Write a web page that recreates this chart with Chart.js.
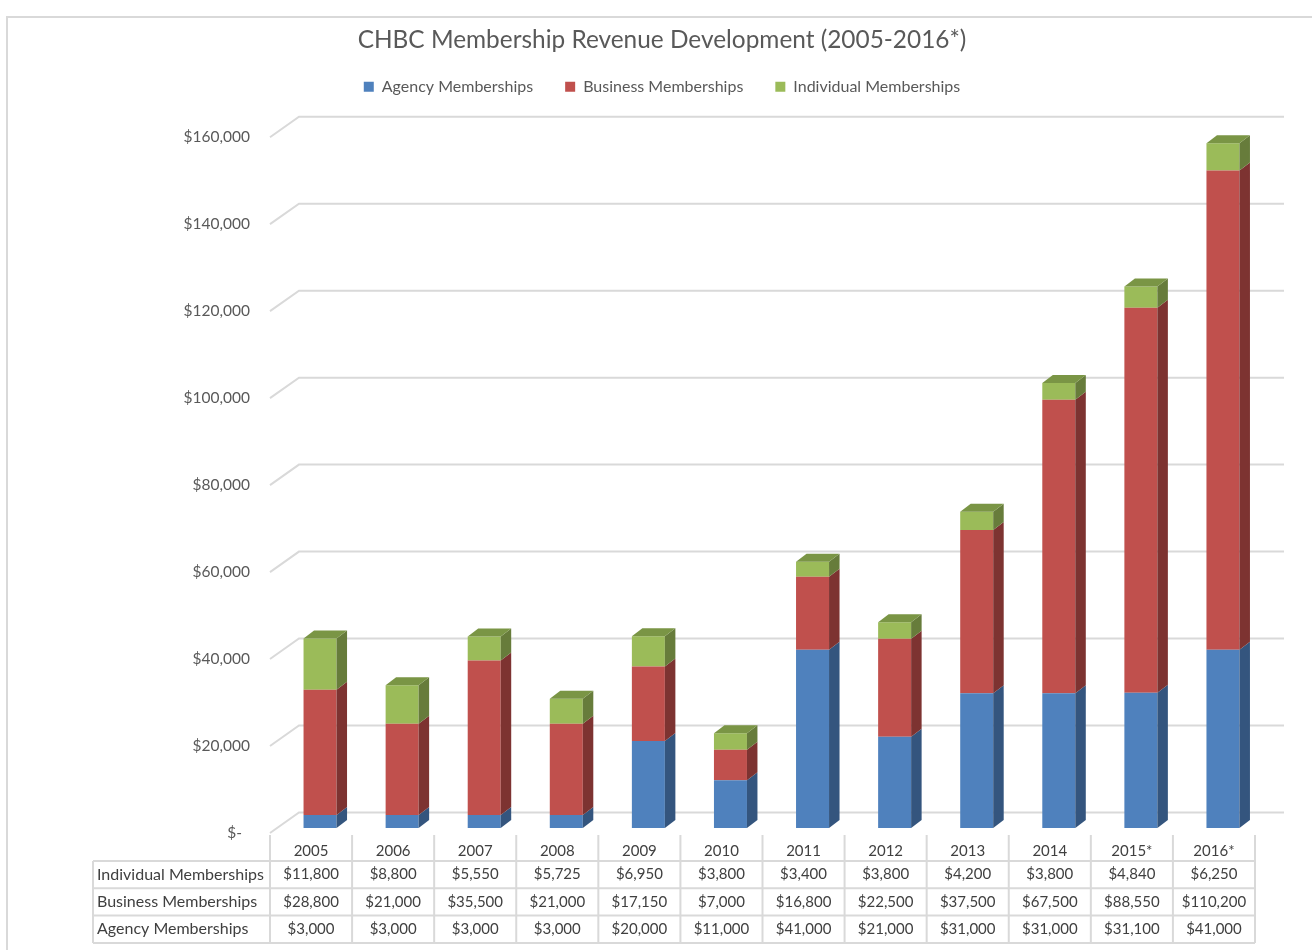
<!DOCTYPE html>
<html><head><meta charset="utf-8">
<script src="https://cdn.jsdelivr.net/npm/chart.js@4.4.1/dist/chart.umd.min.js"></script>
<style>html,body{margin:0;padding:0;background:#fff}#wrap{width:1312px;height:950px;position:relative}</style>
</head><body><div id="wrap"><canvas id="c"></canvas></div>
<script>
// ---- data ----
const categories = ['2005','2006','2007','2008','2009','2010','2011','2012','2013','2014','2015*','2016*'];
const agencyValues = [3000,3000,3000,3000,20000,11000,41000,21000,31000,31000,31100,41000];
const businessValues = [28800,21000,35500,21000,17150,7000,16800,22500,37500,67500,88550,110200];
const individualValues = [11800,8800,5550,5725,6950,3800,3400,3800,4200,3800,4840,6250];
const seriesNames = ['Agency Memberships','Business Memberships','Individual Memberships'];
const yTickValues = [0,20000,40000,60000,80000,100000,120000,140000,160000];
const titleText = 'CHBC Membership Revenue Development (2005-2016*)';

// ---- styles ----
const FONT = 'Lato, "Open Sans", sans-serif';
const frontColors = ['#4F81BD','#C0504D','#9BBB59'];
const sideColors = ['#34557E','#7D3331','#677C3B'];
const topColor = '#7A9545';
const GRID = '#d9d9d9';
const DEPTH = {dx: 10.5, dy: -8};
const TABLE_SHIFT = -9;

const money = v => '$' + v.toLocaleString('en-US');

const deco = {
  id: 'deco',
  beforeDraw(chart) {
    const ctx = chart.ctx;
    ctx.save();
    ctx.strokeStyle = '#d9d9d9'; ctx.lineWidth = 2;
    ctx.beginPath(); ctx.moveTo(7, 960); ctx.lineTo(7, 17); ctx.lineTo(1320, 17); ctx.stroke();
    ctx.restore();
  },
  beforeDatasetsDraw(chart) {
    const {ctx, chartArea: a, scales: {y}} = chart;
    ctx.save();
    ctx.strokeStyle = GRID; ctx.lineWidth = 2;
    y.ticks.forEach(t => {
      const py = y.getPixelForValue(t.value);
      ctx.beginPath();
      ctx.moveTo(a.left - 9, py + 5);
      ctx.lineTo(a.left + 20, py - 15.5);
      ctx.lineTo(a.right + 20, py - 15.5);
      ctx.stroke();
    });
    ctx.restore();
  },
  afterDatasetsDraw(chart) {
    const ctx = chart.ctx;
    const n = chart.data.datasets.length;
    ctx.save();
    chart.data.datasets.forEach((ds, di) => {
      const meta = chart.getDatasetMeta(di);
      meta.data.forEach(bar => {
        const p = bar.getProps(['x','y','base','width'], true);
        const l = p.x - p.width / 2, r = p.x + p.width / 2;
        const t = Math.min(p.y, p.base), b = Math.max(p.y, p.base);
        ctx.fillStyle = sideColors[di];
        ctx.beginPath();
        ctx.moveTo(r, t); ctx.lineTo(r + DEPTH.dx, t + DEPTH.dy);
        ctx.lineTo(r + DEPTH.dx, b + DEPTH.dy); ctx.lineTo(r, b);
        ctx.closePath(); ctx.fill();
        if (di === n - 1) {
          ctx.fillStyle = topColor;
          ctx.beginPath();
          ctx.moveTo(l, t); ctx.lineTo(l + DEPTH.dx, t + DEPTH.dy);
          ctx.lineTo(r + DEPTH.dx, t + DEPTH.dy); ctx.lineTo(r, t);
          ctx.closePath(); ctx.fill();
        }
      });
    });
    ctx.restore();
  },
  afterDraw(chart) {
    const {ctx, scales: {x}} = chart;
    const half = (x.getPixelForValue(1) - x.getPixelForValue(0)) / 2;
    const edges = categories.map((c, i) => x.getPixelForValue(i) - half + TABLE_SHIFT);
    edges.push(x.getPixelForValue(categories.length - 1) + half + TABLE_SHIFT);
    const rows = [
      [seriesNames[2], individualValues],
      [seriesNames[1], businessValues],
      [seriesNames[0], agencyValues]
    ];
    const headLeft = 93, rowTop = 861, rowH = 27.3, colTop = 835;
    const rowLines = [0,1,2,3].map(k => rowTop + k * rowH);
    ctx.save();
    ctx.strokeStyle = GRID; ctx.lineWidth = 2;
    ctx.beginPath();
    rowLines.forEach(yy => { ctx.moveTo(headLeft, yy); ctx.lineTo(edges[edges.length - 1], yy); });
    edges.forEach(ex => { ctx.moveTo(ex, colTop); ctx.lineTo(ex, rowLines[3]); });
    ctx.moveTo(headLeft, rowTop); ctx.lineTo(headLeft, rowLines[3]);
    ctx.stroke();
    ctx.fillStyle = '#404040';
    ctx.textBaseline = 'middle';
    rows.forEach((row, k) => {
      const cy = rowTop + k * rowH + rowH / 2;
      ctx.textAlign = 'left';
      ctx.font = '16px ' + FONT;
      ctx.fillText(row[0], headLeft + 4, cy);
      ctx.textAlign = 'center';
      ctx.font = '15px ' + FONT;
      row[1].forEach((v, i) => ctx.fillText(money(v), (edges[i] + edges[i + 1]) / 2, cy));
    });
    ctx.restore();
  }
};

const datasets = [agencyValues, businessValues, individualValues].map((vals, i) => ({
  label: seriesNames[i],
  data: vals,
  backgroundColor: frontColors[i],
  borderWidth: 0,
  barPercentage: 0.402,
  categoryPercentage: 1
}));

new Chart(document.getElementById('c'), {
  type: 'bar',
  data: { labels: categories, datasets },
  plugins: [deco],
  options: {
    responsive: true,
    maintainAspectRatio: false,
    animation: false,
    layout: { padding: { top: 34.5, left: 60, right: 48, bottom: 0 } },
    plugins: {
      tooltip: { enabled: false },
      title: {
        display: true, text: titleText, color: '#595959', padding: 0,
        font: { family: FONT, size: 24.4, weight: 'normal', lineHeight: 0.5 }
      },
      subtitle: {
        display: true, text: '', padding: { top: 26.5, bottom: 0 }, weight: 500,
        font: { size: 1, lineHeight: 1 }
      },
      legend: {
        position: 'top',
        labels: {
          boxWidth: 10, boxHeight: 10, padding: 32, color: '#595959',
          font: { family: FONT, size: 16 }
        }
      }
    },
    scales: {
      x: {
        stacked: true,
        grid: { display: false, drawTicks: false },
        border: { display: false },
        ticks: { color: '#404040', font: { family: FONT, size: 15 }, padding: 14, labelOffset: TABLE_SHIFT, autoSkip: false, maxRotation: 0 },
        afterFit: s => { s.height = 122; }
      },
      y: {
        stacked: true,
        min: 0, max: 160000,
        afterBuildTicks: s => { s.ticks = yTickValues.map(v => ({ value: v })); },
        grid: { display: false, drawTicks: false },
        border: { display: false },
        ticks: {
          color: '#595959', font: { family: FONT, size: 15.5 }, padding: 29, labelOffset: 5,
          callback: v => v === 0 ? '$-  ' : money(v)
        },
        afterFit: s => { s.width = 219; }
      }
    }
  }
});
</script>
</body></html>
